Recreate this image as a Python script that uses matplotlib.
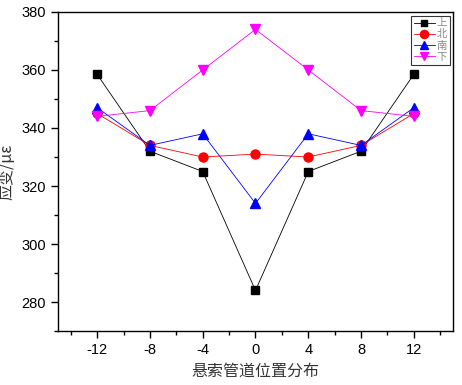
import matplotlib
matplotlib.use("Agg")
import matplotlib.pyplot as plt
from matplotlib.ticker import MultipleLocator

positions = [-12, -8, -4, 0, 4, 8, 12]
s_up = [358.5, 332, 325, 284, 325, 332, 358.5]
s_north = [345, 334, 330, 331, 330, 334, 345]
s_south = [347, 334, 338, 314, 338, 334, 347]
s_down = [344, 346, 360, 374, 360, 346, 344]
series_names = ["上", "北", "南", "下"]

cjk = ["Noto Sans CJK SC", "DejaVu Sans"]
plt.rcParams['font.family'] = ["Liberation Sans", "Noto Sans CJK SC", "DejaVu Sans"]

fig = plt.figure(figsize=(4.62, 3.85), dpi=100)
ax = fig.add_axes([0.1245, 0.140, 0.857, 0.829])

styles = [("black", "s", 5.5), ("red", "o", 6.5), ("blue", "^", 6.5), ("magenta", "v", 6.5)]
for vals, name, (c, m, ms) in zip([s_up, s_north, s_south, s_down], series_names, styles):
    ax.plot(positions, vals, color=c, marker=m, markersize=ms, linewidth=0.6, label=name)

ax.set_xlim(-15, 15)
ax.set_ylim(270, 380)
ax.set_xticks(positions)
ax.set_xticklabels([str(p) for p in positions])
ax.xaxis.set_minor_locator(MultipleLocator(2))
ax.yaxis.set_major_locator(MultipleLocator(20))
ax.yaxis.set_minor_locator(MultipleLocator(10))
ax.tick_params(which='major', direction='out', length=5, width=1, labelsize=10.5, top=False, right=False)
ax.tick_params(which='minor', direction='out', length=3, width=1, top=False, right=False)
for sp in ax.spines.values():
    sp.set_linewidth(1.0)

ax.set_xlabel("悬索管道位置分布", family=cjk, fontsize=11.5, color="#333333", labelpad=4)
ax.set_ylabel("应变/με", family=cjk, fontsize=11.5, color="#333333", labelpad=4)

leg = ax.legend(loc='upper right', prop={'family': cjk, 'size': 7.5}, frameon=True, fancybox=False,
                edgecolor='black', handlelength=2.0, borderpad=0.25, labelspacing=0.12,
                handletextpad=0.2, borderaxespad=0.35, markerscale=0.9)
leg.get_frame().set_linewidth(0.8)
for t in leg.get_texts():
    t.set_color("#888888")

fig.savefig("out.png", dpi=100)
